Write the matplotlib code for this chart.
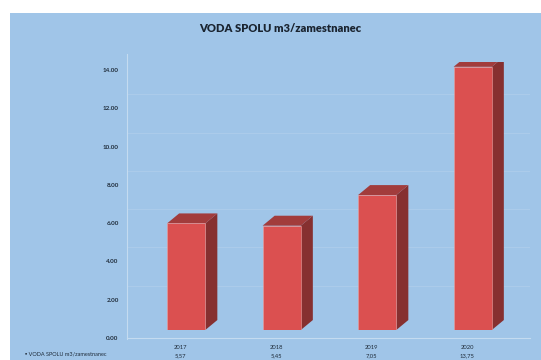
import matplotlib
matplotlib.use("Agg")
import matplotlib.pyplot as plt
from matplotlib.patches import Polygon, Rectangle
from matplotlib.transforms import ScaledTranslation

# data
years = ["2017", "2018", "2019", "2020"]
values = [5.57, 5.45, 7.05, 13.75]
value_labels = ["5,57", "5,45", "7,05", "13,75"]
y_ticks = [0, 2, 4, 6, 8, 10, 12, 14]
series_name = "VODA SPOLU m3/zamestnanec"

bg = "#a0c5e8"
front = "#db5050"
side = "#863030"
top = "#a23c3c"
text_col = "#1f2c3a"

plt.rcParams["font.family"] = ["Lato", "DejaVu Sans"]

fig = plt.figure(figsize=(5.41, 3.60), dpi=100)
fig.patch.set_facecolor("white")
# chart area background
fig.patches.append(Rectangle((10 / 541, 0), 1, 347 / 360, transform=fig.transFigure,
                             facecolor=bg, edgecolor="none", zorder=-10))

ax = fig.add_axes([127 / 541, 30 / 360, 403 / 541, 268 / 360])
ax.set_facecolor("none")
ax.set_xlim(-0.62, 3.6)
ax.set_ylim(0, 14)

# pseudo 3D columns
bw = 0.40
dx = 0.126
dy = 0.52
for i, v in enumerate(values):
    x0 = i - bw / 2
    x1 = i + bw / 2
    ax.add_patch(Polygon([(x1, 0), (x1 + dx, dy), (x1 + dx, v + dy), (x1, v)],
                         closed=True, facecolor=side, edgecolor="none", zorder=3))
    ax.add_patch(Polygon([(x0, v), (x1, v), (x1 + dx, v + dy), (x0 + dx, v + dy)],
                         closed=True, facecolor=top, edgecolor="none", zorder=3))
    ax.add_patch(Rectangle((x0, 0), bw, v, facecolor=front, edgecolor="#e9a0a0",
                           linewidth=0.4, zorder=4))

# gridlines and axis
ax.set_yticks(y_ticks)
ax.set_yticklabels([f"{t:.2f}" for t in y_ticks])
for t in y_ticks[1:]:
    ax.axhline(t + dy * 0.6, color="#b0cfec", linewidth=0.5, zorder=1)
ax.set_xticks([])
for s in ["top", "right", "bottom"]:
    ax.spines[s].set_visible(False)
ax.spines["left"].set_color("#c4dbf0")
ax.spines["left"].set_linewidth(0.8)
ax.spines["left"].set_bounds(-0.45, 14.4)
ax.axhline(-0.42, color="#c4dbf0", linewidth=0.8, clip_on=False, zorder=1)
ax.tick_params(axis="y", length=0, pad=6, labelsize=4.5, labelcolor=text_col)
offset = ScaledTranslation(0, -8 / 100, fig.dpi_scale_trans)
for lab in ax.get_yticklabels():
    lab.set_transform(lab.get_transform() + offset)
    lab.set_fontweight("bold")

# data table under the columns
for i, (yr, lab) in enumerate(zip(years, value_labels)):
    ax.text(i - 0.06, -0.9, yr, ha="center", va="center", fontsize=4.2,
            color=text_col, clip_on=False)
    ax.text(i - 0.06, -1.32, lab, ha="center", va="center", fontsize=4.2,
            color=text_col, clip_on=False)
fig.text(25 / 541, 1 - 354 / 360, "\u25aa " + series_name, fontsize=4,
         color=text_col, va="center", ha="left")

fig.text(280 / 541, 1 - 28 / 360, series_name, ha="center", va="center",
         fontsize=8, fontweight="heavy", color="#1a2430")

fig.savefig("out.png", dpi=100, facecolor=fig.get_facecolor())
